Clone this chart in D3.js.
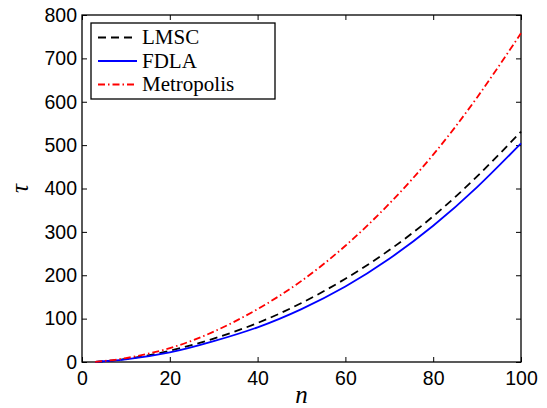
<!DOCTYPE html>
<html>
<head>
<meta charset="utf-8">
<script src="https://cdn.jsdelivr.net/npm/d3@7"></script>
<style>
  body { margin: 0; background: #fff; }
  svg { display: block; }
  .tick text { font-family: "Liberation Sans", Arial, sans-serif; font-size: 19.5px; fill: #000; }
</style>
</head>
<body>
<div id="chart"></div>
<script>
// values
const nValues = [3, 10, 20, 30, 40, 50, 60, 70, 80, 90, 100];
const lmsc = [0.5, 7, 26, 54, 90, 136, 192, 258, 336, 428, 531];
const fdla = [0.5, 6, 22, 48, 80, 122, 174, 238, 314, 403, 504];
const metropolis = [0.5, 9, 32, 70, 122, 187, 268, 365, 478, 610, 758];
const xTicks = [0, 20, 40, 60, 80, 100];
const yTicks = [0, 100, 200, 300, 400, 500, 600, 700, 800];

const series = [
    { name: "LMSC", values: lmsc, color: "#000", dash: "8,5" },
    { name: "FDLA", values: fdla, color: "#0000ff", dash: null },
    { name: "Metropolis", values: metropolis, color: "#ff0000", dash: "7,3,1.5,3" }
];

const W = 547, H = 408;
const margin = { top: 15, right: 26, bottom: 46, left: 82 };
const width = W - margin.left - margin.right;
const height = H - margin.top - margin.bottom;

const svg = d3.select("#chart").append("svg")
    .attr("width", W)
    .attr("height", H);
const g = svg.append("g")
    .attr("transform", `translate(${margin.left},${margin.top})`);

const x = d3.scaleLinear().domain([0, 100]).range([0, width]);
const y = d3.scaleLinear().domain([0, 800]).range([height, 0]);

// axes, ticks pointing inwards, mirrored on top/right
g.append("g")
    .attr("transform", `translate(0,${height})`)
    .call(d3.axisBottom(x).tickValues(xTicks).tickSizeInner(-5).tickSizeOuter(0).tickPadding(9))
    .call(a => a.selectAll("text").attr("dy", "0.71em"));
g.append("g")
    .call(d3.axisLeft(y).tickValues(yTicks).tickSizeInner(-5).tickSizeOuter(0).tickPadding(5));
g.append("g")
    .call(d3.axisTop(x).tickValues(xTicks).tickSizeInner(-5).tickSizeOuter(0).tickFormat(""));
g.append("g")
    .attr("transform", `translate(${width},0)`)
    .call(d3.axisRight(y).tickValues(yTicks).tickSizeInner(-5).tickSizeOuter(0).tickFormat(""));

g.selectAll(".domain").remove();
g.selectAll(".tick line").attr("stroke", "#000").attr("stroke-width", 1);
g.append("rect")
    .attr("width", width)
    .attr("height", height)
    .attr("fill", "none")
    .attr("stroke", "#000")
    .attr("stroke-width", 1.3);

const line = d3.line()
    .x((d, i) => x(nValues[i]))
    .y(d => y(d))
    .curve(d3.curveNatural);

series.forEach(s => {
    g.append("path")
        .datum(s.values)
        .attr("fill", "none")
        .attr("stroke", s.color)
        .attr("stroke-width", 1.8)
        .attr("stroke-dasharray", s.dash)
        .attr("d", line);
});

// legend
const legend = g.append("g").attr("transform", "translate(9,8)");
legend.append("rect")
    .attr("width", 184)
    .attr("height", 76)
    .attr("fill", "#fff")
    .attr("stroke", "#000")
    .attr("stroke-width", 1.3);
series.forEach((s, i) => {
    const yy = 14.5 + i * 23.5;
    legend.append("line")
        .attr("x1", 7).attr("x2", 46)
        .attr("y1", yy).attr("y2", yy)
        .attr("stroke", s.color)
        .attr("stroke-width", 1.8)
        .attr("stroke-dasharray", s.dash);
    legend.append("text")
        .attr("x", 51)
        .attr("y", yy)
        .attr("dy", "0.33em")
        .style("font-family", "'Liberation Serif', 'Times New Roman', serif")
        .style("font-size", "21px")
        .text(s.name);
});

// axis labels
svg.append("text")
    .attr("x", margin.left + width / 2)
    .attr("y", 403)
    .attr("text-anchor", "middle")
    .style("font-family", "'Liberation Serif', 'Times New Roman', serif")
    .style("font-style", "italic")
    .style("font-size", "25px")
    .text("n");
svg.append("text")
    .attr("transform", `translate(28,${margin.top + height / 2}) rotate(-90)`)
    .attr("text-anchor", "middle")
    .style("font-family", "'Liberation Serif', 'Times New Roman', serif")
    .style("font-style", "italic")
    .style("font-size", "25px")
    .text("τ");
</script>
</body>
</html>
